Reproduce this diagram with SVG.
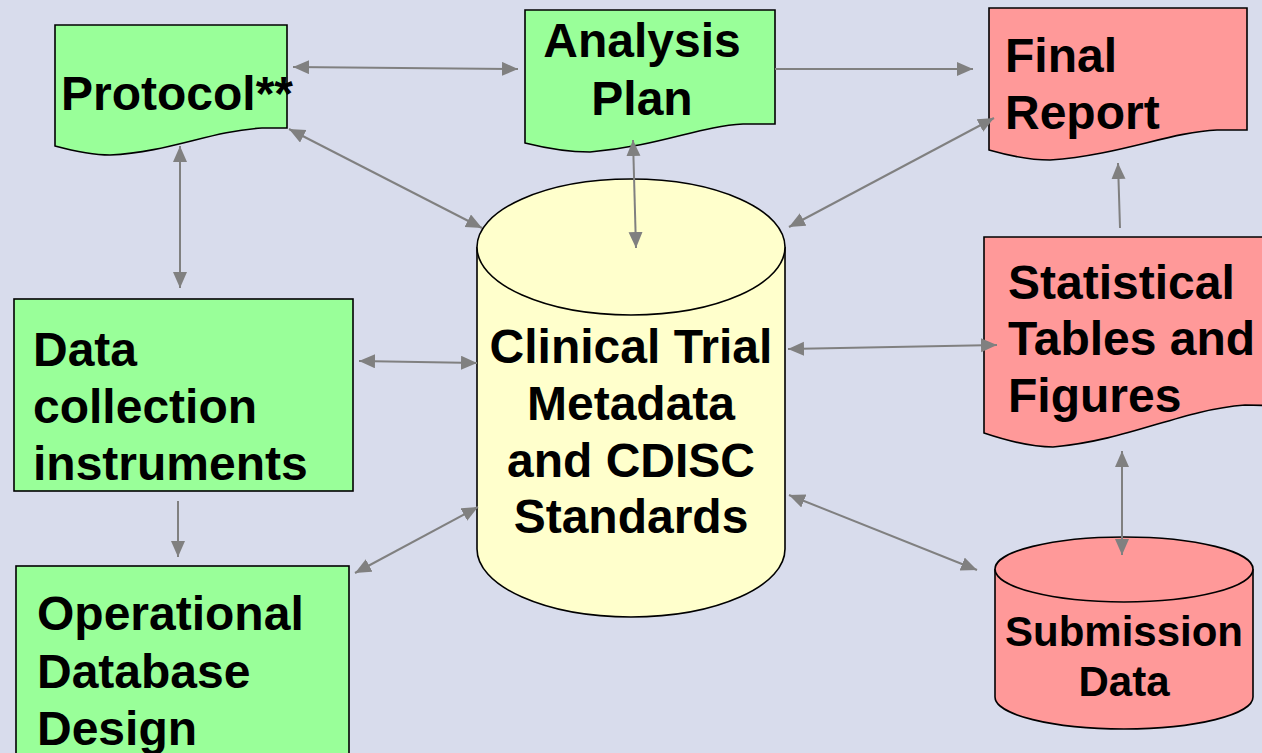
<svg xmlns="http://www.w3.org/2000/svg" width="1262" height="753" viewBox="0 0 1262 753">
<defs>
<marker id="ah" markerUnits="userSpaceOnUse" markerWidth="18" markerHeight="16" refX="16" refY="7" orient="auto-start-reverse">
<path d="M0,0 L16,7 L0,14 Z" fill="#808080"/>
</marker>
<style>
.bg{fill:#D8DCEC}
.g{fill:#99FF99;stroke:#000;stroke-width:1.6}
.r{fill:#FF9999;stroke:#000;stroke-width:1.6}
.y{fill:#FFFFCC;stroke:#000;stroke-width:1.6}
.t{font-family:"Liberation Sans",Arial,sans-serif;font-weight:bold;font-size:48px;fill:#000}
.s{font-size:42px}
.m{text-anchor:middle}
.c line{stroke:#808080;stroke-width:2;fill:none}
.b{marker-start:url(#ah);marker-end:url(#ah)}
.e{marker-end:url(#ah)}
</style>
</defs>
<rect class="bg" x="0" y="0" width="1262" height="753"/>

<g id="protocol">
<path class="g" d="M55,25 H287 V128 L262,128 C210,131 170,152 110,155 C90,155 70,150 55,146 Z"/>
<text class="t" x="61" y="110">Protocol**</text>
</g>

<g id="analysis-plan">
<path class="g" d="M525,10 H775 V124 L743,124 C700,126 660,146 590,152 C570,152 545,148 525,143 Z"/>
<text class="t m" x="642" y="57">Analysis</text>
<text class="t m" x="642" y="115">Plan</text>
</g>

<g id="final-report">
<path class="r" d="M989,8 H1247 V130 L1217,130 C1170,132 1120,155 1050,160 C1030,160 1010,156 989,150 Z"/>
<text class="t" x="1005" y="72">Final</text>
<text class="t" x="1005" y="129">Report</text>
</g>

<g id="statistical-tables">
<path class="r" d="M984,237 H1295 V406 L1245,405 C1180,410 1130,440 1053,447 C1030,447 1005,440 984,433 Z"/>
<text class="t" x="1008" y="299">Statistical</text>
<text class="t" x="1008" y="355">Tables and</text>
<text class="t" x="1008" y="412">Figures</text>
</g>

<g id="data-collection">
<rect class="g" x="14" y="299" width="339" height="192"/>
<text class="t" x="33" y="366">Data</text>
<text class="t" x="33" y="423">collection</text>
<text class="t" x="33" y="480">instruments</text>
</g>

<g id="operational-db">
<rect class="g" x="16" y="566" width="333" height="200"/>
<text class="t" x="37" y="630">Operational</text>
<text class="t" x="37" y="688">Database</text>
<text class="t" x="37" y="745">Design</text>
</g>

<g id="metadata">
<path class="y" d="M477,247 V549 A154,68 0 0 0 785,549 V247 A154,68 0 0 0 477,247 Z"/>
<path class="y" d="M477,247 A154,68 0 0 0 785,247"/>
<text class="t m" x="631" y="363">Clinical Trial</text>
<text class="t m" x="631" y="420">Metadata</text>
<text class="t m" x="631" y="477">and CDISC</text>
<text class="t m" x="631" y="533">Standards</text>
</g>

<g id="submission-data">
<path class="r" d="M995,569 V697 A129,32 0 0 0 1253,697 V569 A129,32 0 0 0 995,569 Z"/>
<path class="r" d="M995,569 A129,33 0 0 0 1253,569"/>
<text class="t s m" x="1124" y="646">Submission</text>
<text class="t s m" x="1124" y="696">Data</text>
</g>

<g id="connectors" class="c">
<line class="b" x1="293" y1="67" x2="518" y2="69"/>
<line class="e" x1="775" y1="69" x2="973" y2="69"/>
<line class="b" x1="289" y1="129" x2="482" y2="228"/>
<line class="b" x1="180" y1="146" x2="180" y2="288"/>
<line class="b" x1="633" y1="140" x2="636" y2="248"/>
<line class="b" x1="789" y1="227" x2="994" y2="118"/>
<line class="e" x1="1120" y1="228" x2="1118" y2="163"/>
<line class="b" x1="788" y1="349" x2="997" y2="345"/>
<line class="b" x1="789" y1="495" x2="977" y2="570"/>
<line class="b" x1="1122" y1="451" x2="1122" y2="555"/>
<line class="b" x1="359" y1="361" x2="477" y2="363"/>
<line class="e" x1="178" y1="501" x2="178" y2="557"/>
<line class="b" x1="355" y1="573" x2="478" y2="507"/>
</g>
</svg>
